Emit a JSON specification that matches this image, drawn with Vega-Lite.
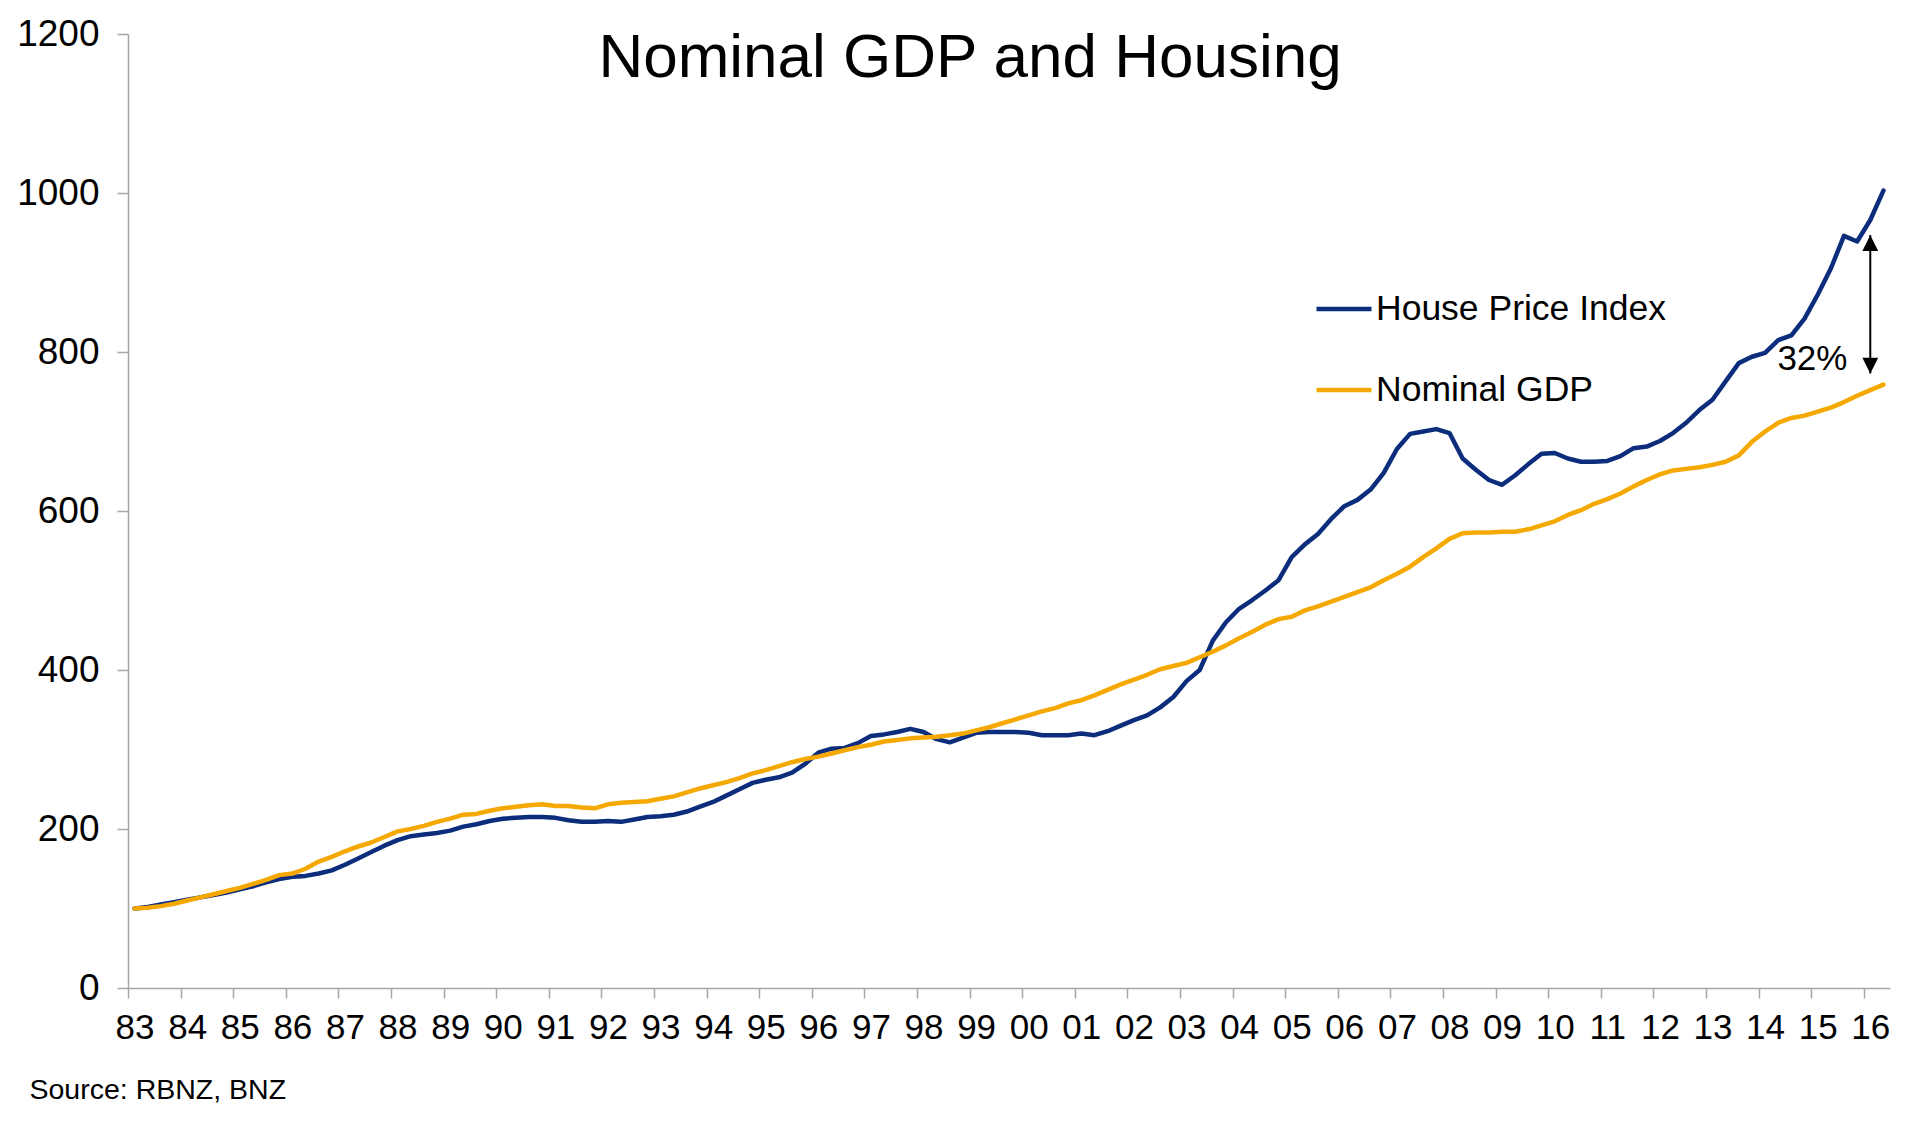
{
"$schema": "https://vega.github.io/schema/vega-lite/v6.json",
"width": 1762, "height": 954,
"autosize": {"type": "none"},
"padding": {"left": 128, "top": 34, "right": 42, "bottom": 138},
"background": "white",
"config": {"view": {"stroke": null}, "font": "Liberation Sans"},
"title": {"text": "Nominal GDP and Housing", "fontSize": 62, "font": "Liberation Sans", "fontWeight": "normal", "color": "#000000", "anchor": "middle", "frame": "group", "baseline": "alphabetic", "offset": -62, "dx": -39, "dy": 62},
"datasets": {
"series": [
{"t":1983,"hpi":100,"gdp":100},{"t":1983.25,"hpi":102,"gdp":101},{"t":1983.5,"hpi":105,"gdp":103},{"t":1983.75,"hpi":108,"gdp":106},
{"t":1984,"hpi":111,"gdp":110},{"t":1984.25,"hpi":114,"gdp":114},{"t":1984.5,"hpi":117,"gdp":118},{"t":1984.75,"hpi":120,"gdp":122},
{"t":1985,"hpi":124,"gdp":126},{"t":1985.25,"hpi":128,"gdp":131},{"t":1985.5,"hpi":133,"gdp":136},{"t":1985.75,"hpi":137,"gdp":142},
{"t":1986,"hpi":140,"gdp":144},{"t":1986.25,"hpi":141,"gdp":150},{"t":1986.5,"hpi":144,"gdp":159},{"t":1986.75,"hpi":148,"gdp":165},
{"t":1987,"hpi":155,"gdp":172},{"t":1987.25,"hpi":163,"gdp":178},{"t":1987.5,"hpi":171,"gdp":183},{"t":1987.75,"hpi":179,"gdp":190},
{"t":1988,"hpi":186,"gdp":197},{"t":1988.25,"hpi":191,"gdp":200},{"t":1988.5,"hpi":193,"gdp":204},{"t":1988.75,"hpi":195,"gdp":209},
{"t":1989,"hpi":198,"gdp":213},{"t":1989.25,"hpi":203,"gdp":218},{"t":1989.5,"hpi":206,"gdp":219},{"t":1989.75,"hpi":210,"gdp":223},
{"t":1990,"hpi":213,"gdp":226},{"t":1990.25,"hpi":214,"gdp":228},{"t":1990.5,"hpi":215,"gdp":230},{"t":1990.75,"hpi":215,"gdp":231},
{"t":1991,"hpi":214,"gdp":229},{"t":1991.25,"hpi":211,"gdp":229},{"t":1991.5,"hpi":209,"gdp":227},{"t":1991.75,"hpi":209,"gdp":226},
{"t":1992,"hpi":210,"gdp":231},{"t":1992.25,"hpi":209,"gdp":233},{"t":1992.5,"hpi":212,"gdp":234},{"t":1992.75,"hpi":215,"gdp":235},
{"t":1993,"hpi":216,"gdp":238},{"t":1993.25,"hpi":218,"gdp":241},{"t":1993.5,"hpi":222,"gdp":246},{"t":1993.75,"hpi":228,"gdp":251},
{"t":1994,"hpi":234,"gdp":255},{"t":1994.25,"hpi":242,"gdp":259},{"t":1994.5,"hpi":250,"gdp":264},{"t":1994.75,"hpi":258,"gdp":270},
{"t":1995,"hpi":262,"gdp":274},{"t":1995.25,"hpi":265,"gdp":279},{"t":1995.5,"hpi":271,"gdp":284},{"t":1995.75,"hpi":282,"gdp":288},
{"t":1996,"hpi":296,"gdp":291},{"t":1996.25,"hpi":301,"gdp":295},{"t":1996.5,"hpi":302,"gdp":299},{"t":1996.75,"hpi":308,"gdp":303},
{"t":1997,"hpi":317,"gdp":306},{"t":1997.25,"hpi":319,"gdp":310},{"t":1997.5,"hpi":322,"gdp":312},{"t":1997.75,"hpi":326,"gdp":314},
{"t":1998,"hpi":322,"gdp":315},{"t":1998.25,"hpi":313,"gdp":316},{"t":1998.5,"hpi":309,"gdp":318},{"t":1998.75,"hpi":315,"gdp":320},
{"t":1999,"hpi":321,"gdp":324},{"t":1999.25,"hpi":322,"gdp":328},{"t":1999.5,"hpi":322,"gdp":333},{"t":1999.75,"hpi":322,"gdp":338},
{"t":2000,"hpi":321,"gdp":343},{"t":2000.25,"hpi":318,"gdp":348},{"t":2000.5,"hpi":318,"gdp":352},{"t":2000.75,"hpi":318,"gdp":358},
{"t":2001,"hpi":320,"gdp":362},{"t":2001.25,"hpi":318,"gdp":368},{"t":2001.5,"hpi":323,"gdp":375},{"t":2001.75,"hpi":330,"gdp":382},
{"t":2002,"hpi":337,"gdp":388},{"t":2002.25,"hpi":343,"gdp":394},{"t":2002.5,"hpi":353,"gdp":401},{"t":2002.75,"hpi":366,"gdp":405},
{"t":2003,"hpi":386,"gdp":409},{"t":2003.25,"hpi":400,"gdp":416},{"t":2003.5,"hpi":437,"gdp":423},{"t":2003.75,"hpi":460,"gdp":431},
{"t":2004,"hpi":477,"gdp":440},{"t":2004.25,"hpi":488,"gdp":448},{"t":2004.5,"hpi":500,"gdp":457},{"t":2004.75,"hpi":513,"gdp":464},
{"t":2005,"hpi":542,"gdp":467},{"t":2005.25,"hpi":558,"gdp":475},{"t":2005.5,"hpi":571,"gdp":480},{"t":2005.75,"hpi":590,"gdp":486},
{"t":2006,"hpi":606,"gdp":492},{"t":2006.25,"hpi":614,"gdp":498},{"t":2006.5,"hpi":627,"gdp":504},{"t":2006.75,"hpi":648,"gdp":513},
{"t":2007,"hpi":678,"gdp":521},{"t":2007.25,"hpi":697,"gdp":530},{"t":2007.5,"hpi":700,"gdp":542},{"t":2007.75,"hpi":703,"gdp":553},
{"t":2008,"hpi":698,"gdp":565},{"t":2008.25,"hpi":666,"gdp":572},{"t":2008.5,"hpi":652,"gdp":573},{"t":2008.75,"hpi":639,"gdp":573},
{"t":2009,"hpi":633,"gdp":574},{"t":2009.25,"hpi":645,"gdp":574},{"t":2009.5,"hpi":659,"gdp":577},{"t":2009.75,"hpi":672,"gdp":582},
{"t":2010,"hpi":673,"gdp":587},{"t":2010.25,"hpi":666,"gdp":595},{"t":2010.5,"hpi":662,"gdp":601},{"t":2010.75,"hpi":662,"gdp":609},
{"t":2011,"hpi":663,"gdp":615},{"t":2011.25,"hpi":669,"gdp":622},{"t":2011.5,"hpi":679,"gdp":631},{"t":2011.75,"hpi":681,"gdp":639},
{"t":2012,"hpi":688,"gdp":646},{"t":2012.25,"hpi":698,"gdp":651},{"t":2012.5,"hpi":711,"gdp":653},{"t":2012.75,"hpi":727,"gdp":655},
{"t":2013,"hpi":740,"gdp":658},{"t":2013.25,"hpi":763,"gdp":662},{"t":2013.5,"hpi":786,"gdp":670},{"t":2013.75,"hpi":794,"gdp":687},
{"t":2014,"hpi":799,"gdp":700},{"t":2014.25,"hpi":815,"gdp":711},{"t":2014.5,"hpi":821,"gdp":717},{"t":2014.75,"hpi":842,"gdp":720},
{"t":2015,"hpi":872,"gdp":725},{"t":2015.25,"hpi":905,"gdp":730},{"t":2015.5,"hpi":946,"gdp":737},{"t":2015.75,"hpi":939,"gdp":745},
{"t":2016,"hpi":966,"gdp":752},{"t":2016.25,"hpi":1003,"gdp":759}
],
"note": [{"t": 2016, "top": 947, "bottom": 773, "lx": 2014.9, "ly": 777, "label": "32%"}]
},
"layer": [
{
"data": {"name": "series"},
"transform": [{"fold": ["hpi", "gdp"], "as": ["series", "value"]}],
"mark": {"type": "line", "strokeWidth": 4.5, "strokeJoin": "round", "strokeCap": "round"},
"encoding": {
"x": {"field": "t", "type": "quantitative",
 "scale": {"domain": [1982.875, 2016.375], "nice": false, "zero": false},
 "axis": {
  "values": [1982.875,1983.125,1983.375,1983.625,1983.875,1984.125,1984.375,1984.625,1984.875,1985.125,1985.375,1985.625,1985.875,1986.125,1986.375,1986.625,1986.875,1987.125,1987.375,1987.625,1987.875,1988.125,1988.375,1988.625,1988.875,1989.125,1989.375,1989.625,1989.875,1990.125,1990.375,1990.625,1990.875,1991.125,1991.375,1991.625,1991.875,1992.125,1992.375,1992.625,1992.875,1993.125,1993.375,1993.625,1993.875,1994.125,1994.375,1994.625,1994.875,1995.125,1995.375,1995.625,1995.875,1996.125,1996.375,1996.625,1996.875,1997.125,1997.375,1997.625,1997.875,1998.125,1998.375,1998.625,1998.875,1999.125,1999.375,1999.625,1999.875,2000.125,2000.375,2000.625,2000.875,2001.125,2001.375,2001.625,2001.875,2002.125,2002.375,2002.625,2002.875,2003.125,2003.375,2003.625,2003.875,2004.125,2004.375,2004.625,2004.875,2005.125,2005.375,2005.625,2005.875,2006.125,2006.375,2006.625,2006.875,2007.125,2007.375,2007.625,2007.875,2008.125,2008.375,2008.625,2008.875,2009.125,2009.375,2009.625,2009.875,2010.125,2010.375,2010.625,2010.875,2011.125,2011.375,2011.625,2011.875,2012.125,2012.375,2012.625,2012.875,2013.125,2013.375,2013.625,2013.875,2014.125,2014.375,2014.625,2014.875,2015.125,2015.375,2015.625,2015.875,2016.125,2016.375],
  "labelExpr": "(datum.value + 0.125) % 1 == 0 ? slice(toString(datum.value + 0.125), 2) : ''",
  "labelOffset": 6.57, "labelOverlap": false, "labelBound": false, "labelFlush": false,
  "labelFontSize": 35, "labelFont": "Liberation Sans", "labelColor": "#000000", "labelPadding": 12,
  "tickSize": 10, "tickColor": "#A6A6A6", "tickWidth": 1.5, "domainColor": "#A6A6A6", "domainWidth": 1.5,
  "grid": false,
  "title": "Source: RBNZ, BNZ", "titleFont": "Liberation Sans", "titleFontSize": 28.5, "titleFontWeight": "normal", "titleColor": "#000000",
  "titleAnchor": "start", "titleAlign": "left", "titleBaseline": "alphabetic", "titleX": -99, "titleY": 110
 }},
"y": {"field": "value", "type": "quantitative",
 "scale": {"domain": [0, 1200], "nice": false},
 "axis": {"values": [0,200,400,600,800,1000,1200], "format": "d", "grid": false, "title": null,
  "labelFontSize": 37, "labelFont": "Liberation Sans", "labelColor": "#000000", "labelPadding": 18, "labelFlush": false,
  "tickSize": 11, "tickColor": "#A6A6A6", "tickWidth": 1.5, "domainColor": "#A6A6A6", "domainWidth": 1.5}},
"color": {"field": "series", "type": "nominal",
 "scale": {"domain": ["hpi", "gdp"], "range": ["#0B2D7C", "#F5A800"]},
 "legend": {"orient": "none", "legendX": 1186, "legendY": 245, "title": null,
  "symbolType": "stroke", "symbolSize": 3025, "symbolStrokeWidth": 4.5,
  "labelFontSize": 35.5, "labelFont": "Liberation Sans", "labelColor": "#000000", "labelOffset": 2, "labelLimit": 0,
  "rowPadding": 32, "padding": 0,
  "labelExpr": "datum.label == 'hpi' ? 'House Price Index' : 'Nominal GDP'"}}
}
},
{
"data": {"name": "note"},
"mark": {"type": "rule", "color": "#000000", "strokeWidth": 2},
"encoding": {"x": {"field": "t", "type": "quantitative"}, "y": {"field": "top", "type": "quantitative"}, "y2": {"field": "bottom"}}
},
{
"data": {"name": "note"},
"mark": {"type": "point", "shape": "M0,0L-0.5,1L0.5,1Z", "filled": true, "color": "#000000", "size": 1000, "opacity": 1, "strokeWidth": 0},
"encoding": {"x": {"field": "t", "type": "quantitative"}, "y": {"field": "top", "type": "quantitative"}}
},
{
"data": {"name": "note"},
"mark": {"type": "point", "shape": "M0,0L-0.5,-1L0.5,-1Z", "filled": true, "color": "#000000", "size": 1000, "opacity": 1, "strokeWidth": 0},
"encoding": {"x": {"field": "t", "type": "quantitative"}, "y": {"field": "bottom", "type": "quantitative"}}
},
{
"data": {"name": "note"},
"mark": {"type": "text", "fontSize": 35, "font": "Liberation Sans", "align": "center", "baseline": "alphabetic", "color": "#000000"},
"encoding": {"x": {"field": "lx", "type": "quantitative"}, "y": {"field": "ly", "type": "quantitative"}, "text": {"field": "label"}}
}
]
}
